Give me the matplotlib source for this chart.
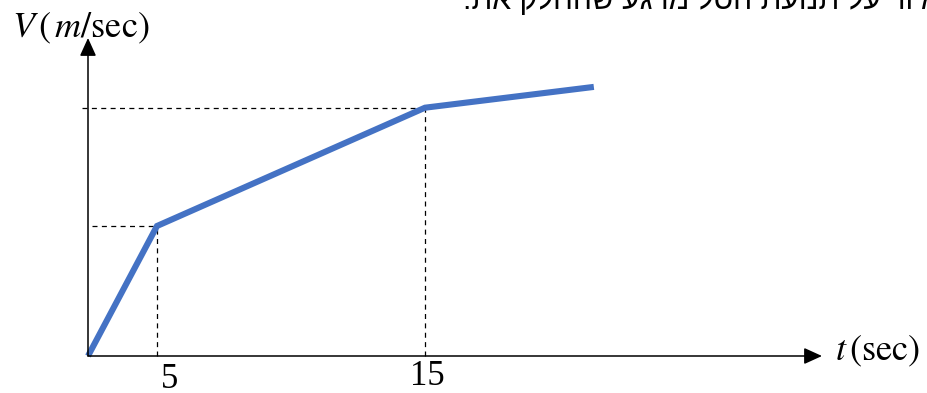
import numpy as np
import matplotlib
matplotlib.use("Agg")
import matplotlib.pyplot as plt

# ---- data ----
t_values = [0, 5, 15, 21.3]          # time (sec)
v_values = [0, 10, 19.1, 20.7]       # velocity (arbitrary units, no scale shown)
tick_values = [5, 15]
tick_labels = ["5", "15"]
y_label = r"$V\,(\,m/\mathrm{sec})$"
x_label = r"$t\,(\mathrm{sec})$"
heb_logical = "באיור על תנועת הסל מרגע שהחלק את."

W, H = 928, 393
fig = plt.figure(figsize=(W / 100, H / 100), dpi=100)
plt.rcParams["mathtext.fontset"] = "stix"

# axes box in pixels
x0, y0, x1, y1 = 88, 356, 822, 38
ax = fig.add_axes([x0 / W, (H - y0) / H, (x1 - x0) / W, (y0 - y1) / H])
ax.set_facecolor("none")

# non-uniform horizontal scale as drawn in the sketch
S1, S2 = 13.8, 26.8
def fwd(x):
    x = np.asarray(x, float)
    return np.where(x < 5, x * S1, 5 * S1 + (x - 5) * S2)
def inv(p):
    p = np.asarray(p, float)
    return np.where(p < 5 * S1, p / S1, 5 + (p - 5 * S1) / S2)

ax.set_xscale("function", functions=(fwd, inv))
ax.set_xlim(0, float(inv(x1 - x0)))
ax.set_ylim(0, (y0 - y1) / 13.0)

for s in ax.spines.values():
    s.set_visible(False)
ax.set_xticks([])
ax.set_yticks([])

# dashed guide lines
dash_starts = [0.3, -0.43]
for tv, vv, xs in zip(t_values[1:3], v_values[1:3], dash_starts):
    ax.plot([xs, tv], [vv, vv], color="black", lw=0.9, ls=(0, (4, 3.5)), clip_on=False)
    ax.plot([tv, tv], [0, vv], color="black", lw=0.9, ls=(0, (4, 3.5)), clip_on=False)

# the velocity graph
ax.plot(t_values, v_values, color="#4472C4", lw=4.4, solid_capstyle="butt",
        solid_joinstyle="miter", clip_on=False, zorder=3)

# axis arrows
arrow = dict(arrowstyle="-|>,head_length=1.1,head_width=0.5", color="black",
             lw=1.1, shrinkA=0, shrinkB=0, mutation_scale=10)
ax.annotate("", xy=(1, 0), xytext=(0, 0), xycoords="axes fraction",
            textcoords="axes fraction", arrowprops=arrow)
ax.annotate("", xy=(0, 1), xytext=(0, 0), xycoords="axes fraction",
            textcoords="axes fraction", arrowprops=arrow)

# tick labels
tick_offsets = [(9, -23), (2, -21)]
for tv, lab, off in zip(tick_values, tick_labels, tick_offsets):
    ax.annotate(lab, xy=(tv, 0), xytext=off, textcoords="offset points",
                ha="center", va="baseline", fontsize=25,
                fontfamily="Liberation Serif", annotation_clip=False)

# axis labels
fig.text(12 / W, (H - 37) / H, y_label, fontsize=26, ha="left", va="baseline")
fig.text(835 / W, (H - 360) / H, x_label, fontsize=26, ha="left", va="baseline")

# Hebrew text cut at the top edge (reversed for right-to-left display)
fig.text(463 / W, (H - 9) / H, heb_logical[::-1], fontsize=21.7,
         family=["Liberation Sans", "DejaVu Sans"], ha="left", va="baseline")

fig.savefig("out.png", dpi=100)
